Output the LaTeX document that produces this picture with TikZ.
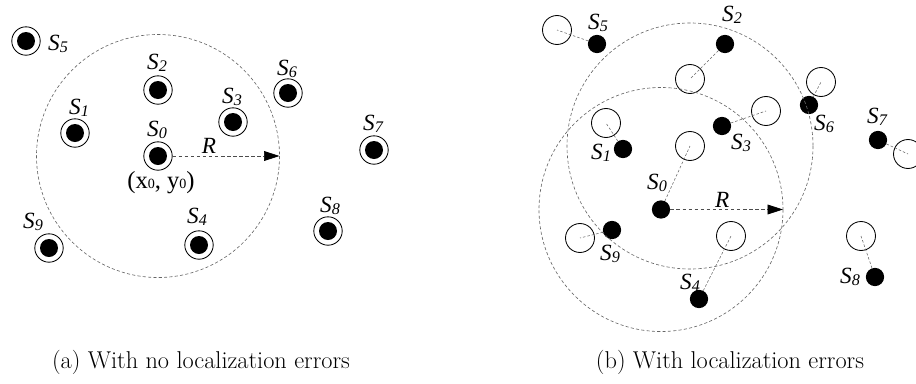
\documentclass[tikz,border=0pt]{standalone}
\usepackage{fontspec}
\usepackage{tikz}
\usetikzlibrary{shapes, arrows.meta, positioning}

\newfontfamily\timesfont{Liberation Serif}
% sensor name: italic S with a small italic index
\newcommand{\sname}[1]{{\timesfont\itshape\fontsize{16.5}{16.5}\selectfont S\raisebox{-1pt}{\fontsize{11.5}{11.5}\selectfont #1}}}

\tikzset{
    ring/.style={circle, draw, line width=0.6pt, minimum size=20.2pt, inner sep=0pt,
        path picture={\fill (path picture bounding box.center) circle (6.4pt);}},
    dot/.style={circle, fill=black, minimum size=13pt, inner sep=0pt},
    ghost/.style={circle, draw, line width=0.6pt, minimum size=20.6pt, inner sep=0pt},
    tag/.style={inner sep=0pt, font=\timesfont},
    caption/.style={inner sep=0pt, font=\fontsize{17.3}{20}\selectfont},
    radio/.style={draw=black!60, line width=0.45pt, dash pattern=on 2.2pt off 1.6pt},
    drift/.style={draw=black!60, line width=0.4pt, dash pattern=on 1.8pt off 1.4pt},
    reach/.style={draw=black!70, line width=0.5pt, dash pattern=on 2.5pt off 1.8pt,
        arrows = -{Triangle[length=11pt, width=7pt, color=black, fill=black]}}
}

\begin{document}
\begin{tikzpicture}[x=0.025cm, y=-0.025cm]
    \clip (0,0) rectangle (916,383);

    % (a) exact positions
    \node (s0) [ring] at (158,156) {};
    \node (s1) [ring] at (75,133) {};
    \node (s2) [ring] at (158,90) {};
    \node (s3) [ring] at (233,122) {};
    \node (s4) [ring] at (199,245) {};
    \node (s5) [ring] at (26,41) {};
    \node (s6) [ring] at (288,93) {};
    \node (s7) [ring] at (374,150) {};
    \node (s8) [ring] at (328,231) {};
    \node (s9) [ring] at (49,248) {};

    \node (ls0) [tag] at (157,130) {\sname{0}};
    \node (ls1) [tag] at (79,108) {\sname{1}};
    \node (ls2) [tag] at (157,63) {\sname{2}};
    \node (ls3) [tag] at (232,97) {\sname{3}};
    \node (ls4) [tag] at (197,217) {\sname{4}};
    \node (ls5) [tag] at (58,44) {\sname{5}};
    \node (ls6) [tag] at (287,69) {\sname{6}};
    \node (ls7) [tag] at (373,124) {\sname{7}};
    \node (ls8) [tag] at (330,206) {\sname{8}};
    \node (ls9) [tag] at (33,222) {\sname{9}};
    \node (pos0) [tag, font=\timesfont\fontsize{17.5}{17.5}\selectfont] at (161,183) {(x{\fontsize{10}{10}\selectfont 0}, y{\fontsize{10}{10}\selectfont 0})};

    \draw [radio] (s0.center) circle (121.5);
    \coordinate (edgeA) at (279.5,156);
    \draw [reach] (s0) -- (edgeA) node [tag, pos=0.34, above=1.5pt] {\itshape\fontsize{16.5}{16.5}\selectfont R};

    % (b) estimated positions drift away from the true ones
    \node (d0) [dot] at (661,209.5) {};
    \node (d1) [dot] at (623,149) {};
    \node (d2) [dot] at (725,44) {};
    \node (d3) [dot] at (722,126) {};
    \node (d4) [dot] at (699,299) {};
    \node (d5) [dot] at (597,44) {};
    \node (d6) [dot] at (809,105) {};
    \node (d7) [dot] at (878,140) {};
    \node (d8) [dot] at (875,277) {};
    \node (d9) [dot] at (612,230) {};

    \node (g0) [ghost] at (690,146) {};
    \node (g1) [ghost] at (606,123) {};
    \node (g2) [ghost] at (690,79) {};
    \node (g3) [ghost] at (766,111) {};
    \node (g4) [ghost] at (731,236) {};
    \node (g5) [ghost] at (557,30) {};
    \node (g6) [ghost] at (821,82) {};
    \node (g7) [ghost] at (908,154) {};
    \node (g8) [ghost] at (861,236) {};
    \node (g9) [ghost] at (580,238) {};

    \foreach \i in {0,...,9}
        \draw [drift] (d\i) -- (g\i.center);

    \node (ld0) [tag] at (657,183) {\sname{0}};
    \node (ld1) [tag] at (601,153) {\sname{1}};
    \node (ld2) [tag] at (732,15) {\sname{2}};
    \node (ld3) [tag] at (741,143) {\sname{3}};
    \node (ld4) [tag] at (690,283) {\sname{4}};
    \node (ld5) [tag] at (598,23) {\sname{5}};
    \node (ld6) [tag] at (824,124) {\sname{6}};
    \node (ld7) [tag] at (877,117) {\sname{7}};
    \node (ld8) [tag] at (850,277) {\sname{8}};
    \node (ld9) [tag] at (610,254) {\sname{9}};

    \draw [radio] (d0.center) circle (122);
    \draw [radio] (g0.center) circle (123);
    \coordinate (edgeB) at (783,209.5);
    \draw [reach] (d0) -- (edgeB) node [tag, pos=0.46, above=1.5pt] {\itshape\fontsize{16.5}{16.5}\selectfont R};

    % captions
    \node (capA) [caption] at (201,362) {(a) With no localization errors};
    \node (capB) [caption] at (730,362) {(b) With localization errors};
\end{tikzpicture}
\end{document}
